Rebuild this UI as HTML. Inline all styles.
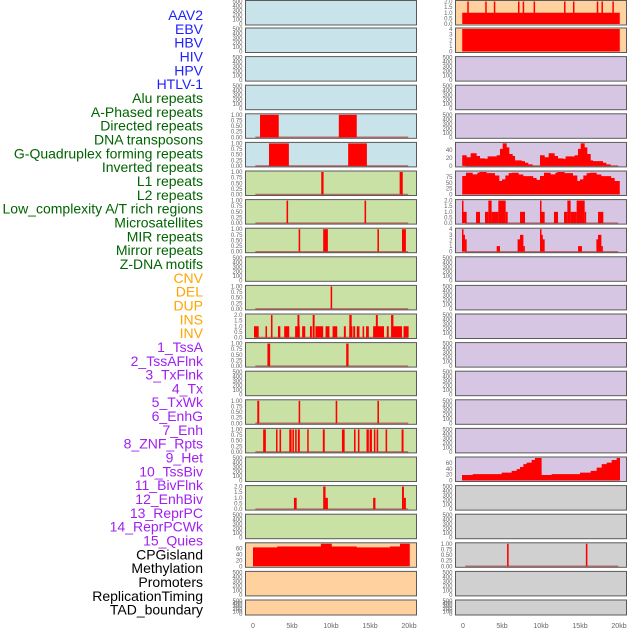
<!DOCTYPE html>
<html><head><meta charset="utf-8">
<style>
html,body{margin:0;padding:0;background:#fff;}
svg{display:block;font-family:"Liberation Sans",sans-serif;}
</style></head>
<body>
<svg id="chart" width="630" height="630" viewBox="0 0 630 630"></svg>
<script>
const trackLabels = ["AAV2","EBV","HBV","HIV","HPV","HTLV-1","Alu repeats","A-Phased repeats","Directed repeats","DNA transposons","G-Quadruplex forming repeats","Inverted repeats","L1 repeats","L2 repeats","Low_complexity A/T rich regions","Microsatellites","MIR repeats","Mirror repeats","Z-DNA motifs","CNV","DEL","DUP","INS","INV","1_TssA","2_TssAFlnk","3_TxFlnk","4_Tx","5_TxWk","6_EnhG","7_Enh","8_ZNF_Rpts","9_Het","10_TssBiv","11_BivFlnk","12_EnhBiv","13_ReprPC","14_ReprPCWk","15_Quies","CPGisland","Methylation","Promoters","ReplicationTiming","TAD_boundary"];
const trackLabelGroups = [0,0,0,0,0,0,1,1,1,1,1,1,1,1,1,1,1,1,1,2,2,2,2,2,3,3,3,3,3,3,3,3,3,3,3,3,3,3,3,4,4,4,4,4];
const xTickValues = [0,5,10,15,20];
const xTickLabels = ["0","5kb","10kb","15kb","20kb"];

// bar data: [startKb, endKb, value]
const barsA = [[0.9,3.3,1],[11.0,13.3,1]];
const barsB = [[2.05,4.6,1],[12.2,14.6,1]];
const barsC = [[8.75,9.05,1],[18.8,19.2,1]];
const barsD = [[4.3,4.5,1],[14.3,14.5,1]];
const barsE = [[5.85,6.05,1],[9.0,9.6,1],[15.95,16.15,1],[19.1,19.6,1]];
const barsF = [[9.95,10.15,1]];
const barsINS = [[0.13,0.73,1],[1.6,1.8,1],[2.3,2.5,2],[3.2,3.5,1],[4.0,4.65,1],[5.4,6.0,1],[5.7,5.95,2],[6.3,6.7,1],[7.3,7.55,1],[7.65,7.9,2],[8.0,9.0,1],[9.3,9.8,1],[10.2,10.8,1],[11.65,11.9,1],[12.35,12.65,2],[12.35,12.75,1],[12.85,13.1,1],[13.3,13.65,1],[14.05,14.25,1],[14.5,14.85,1],[15.4,16.8,1],[15.75,16.0,2],[17.15,17.4,1],[17.7,18.0,2],[17.8,19.1,1],[19.3,19.95,1]];
const barsTss = [[1.85,2.2,1],[11.95,12.25,1]];
const barsTxWk = [[0.55,0.8,1],[5.85,6.05,1],[10.6,10.8,1],[15.95,16.15,1]];
const barsEnh = [[1.3,1.65,1],[2.95,3.1,1],[3.4,3.6,1],[4.65,4.95,1],[5.05,5.25,1],[5.4,5.6,1],[5.75,6.0,1],[6.95,7.1,1],[8.95,9.2,1],[11.4,11.75,1],[12.95,13.15,1],[13.45,13.65,1],[14.55,14.85,1],[14.95,15.25,1],[15.5,15.65,1],[15.85,16.05,1],[17.0,17.2,1],[19.05,19.3,1]];
const barsEnhBiv = [[5.25,5.6,1],[9.0,9.3,2],[9.3,9.6,1],[15.4,15.7,1],[19.1,19.35,2],[19.35,19.6,1]];
const barsAAV = [[-0.1,20.1,1],[0.55,0.7,2],[2.85,3.0,2],[3.95,4.1,2],[7.05,7.2,2],[7.65,7.8,2],[9.05,9.2,2],[12.95,13.1,2],[14.1,14.25,2],[17.15,17.3,2],[17.75,17.9,2],[19.15,19.3,2]];
const barsEBV = [[-0.1,20.1,4]];
const barsRep2 = [[-0.13,0.04,2],[0.04,0.47,1],[1.67,2.18,1],[2.82,3.25,1],[3.25,3.67,2],[3.67,4.53,1],[4.53,5.47,2],[5.47,5.73,1],[7.31,7.95,1],[9.87,10.04,2],[10.04,10.47,1],[11.66,12.18,1],[12.95,13.38,1],[13.38,13.8,2],[13.8,14.57,1],[14.57,15.6,2],[15.6,15.77,1],[17.31,17.99,1]];
const barsRep4 = [[-0.13,0.04,4],[0.04,0.25,3],[0.25,0.47,2.2],[4.32,4.74,1],[7.0,7.31,2.2],[7.31,7.74,3],[7.74,7.9,1],[9.87,10.04,4],[10.04,10.2,3],[10.2,10.47,2.2],[14.75,15.25,1],[17.1,17.31,2.2],[17.31,17.74,3],[17.74,17.9,1]];
const barsPoint = [[5.65,5.85,1],[15.75,15.95,1]];

// step-area data: starts (kb), values, final end
const cpgStarts = [0,3.1,7.45,8.7,10.1,13.3,17.55,18.85];
const cpgValues = [63,66,66,75,66,63,66,75];
const cpgEnd = 20.1;
const gqStarts = [-0.1,0.47,0.98,1.75,2.18,2.82,3.16,4.32,4.74,5.09,5.6,5.94,6.37,6.67,7.52,7.95,8.38,8.93,9.87,10.47,10.98,11.75,12.18,12.82,13.16,14.32,14.74,15.09,15.6,15.94,16.37,16.67,17.52,17.95,18.38,18.93];
const gqValues = [27,22,32,25,19,18,24,27,43,57,47,30,25,14,12,8,4,0,27,22,32,25,19,18,24,27,43,57,47,30,14,12,12,8,4,0];
const gqEnd = 20.0;
const invStarts = [-0.1,0.38,1.24,1.84,2.1,3.03,4.1,4.66,5.0,5.43,5.85,6.28,7.14,7.74,9.0,9.44,9.87,10.38,11.24,11.84,12.1,13.03,14.1,14.66,15.0,15.43,15.85,16.28,17.14,17.74,19.0,19.44];
const invValues = [80,94,87,94,97,92,82,58,65,82,92,94,86,79,71,63,80,94,87,94,97,92,82,58,65,82,92,94,86,79,71,58];
const invEnd = 20.1;
const hetStarts = [-0.13,1.24,4.96,6.24,6.88,7.31,7.74,8.16,8.8,9.23,10.08,11.37,15.0,16.37,17.14,17.78,18.42,19.06,19.7];
const hetValues = [19,22,27,33,39,46,56,61,70,77,19,22,27,33,44,56,61,70,77];
const hetEnd = 20.13;

const tickEmpty = [0,100,200,300,400,500];
const tickUnit = [0,0.25,0.5,0.75,1];
const tickTwo = [0,0.5,1,1.5,2];
const tickFour = [0,1,2,3,4];

const BLUE="#c9e3ea", GREEN="#c9e1a5", ORANGE="#ffd19e", PURPLE="#d6c6e3", GRAY="#d0d0d0";
const panels = [
 [0,0,BLUE,"empty"],[0,1,BLUE,"empty"],[0,2,BLUE,"empty"],[0,3,BLUE,"empty"],
 [0,4,BLUE,"bars",barsA,tickUnit,1],[0,5,BLUE,"bars",barsB,tickUnit,1],
 [0,6,GREEN,"bars",barsC,tickUnit,1],[0,7,GREEN,"bars",barsD,tickUnit,1],
 [0,8,GREEN,"bars",barsE,tickUnit,1],[0,9,GREEN,"empty"],
 [0,10,GREEN,"bars",barsF,tickUnit,1],[0,11,GREEN,"bars",barsINS,tickTwo,2],
 [0,12,GREEN,"bars",barsTss,tickUnit,1],[0,13,GREEN,"empty"],
 [0,14,GREEN,"bars",barsTxWk,tickUnit,1],[0,15,GREEN,"bars",barsEnh,tickUnit,1],
 [0,16,GREEN,"empty"],[0,17,GREEN,"bars",barsEnhBiv,tickTwo,2],[0,18,GREEN,"empty"],
 [0,19,ORANGE,"area",[cpgStarts,cpgValues,cpgEnd],[0,20,40,60],75],
 [0,20,ORANGE,"empty"],[0,21,ORANGE,"empty"],
 [1,0,ORANGE,"bars",barsAAV,tickTwo,2,true],[1,1,ORANGE,"bars",barsEBV,tickFour,4,true],
 [1,2,PURPLE,"empty"],[1,3,PURPLE,"empty"],[1,4,PURPLE,"empty"],
 [1,5,PURPLE,"area",[gqStarts,gqValues,gqEnd],[0,20,40],57,false,true],
 [1,6,PURPLE,"area",[invStarts,invValues,invEnd],[0,25,50,75],97],
 [1,7,PURPLE,"bars",barsRep2,tickTwo,2],[1,8,PURPLE,"bars",barsRep4,tickFour,4],
 [1,9,PURPLE,"empty"],[1,10,PURPLE,"empty"],[1,11,PURPLE,"empty"],[1,12,PURPLE,"empty"],
 [1,13,PURPLE,"empty"],[1,14,PURPLE,"empty"],[1,15,PURPLE,"empty"],
 [1,16,PURPLE,"area",[hetStarts,hetValues,hetEnd],[0,20,40,60],77],
 [1,17,GRAY,"empty"],[1,18,GRAY,"empty"],[1,19,GRAY,"bars",barsPoint,tickUnit,1],
 [1,20,GRAY,"empty"],[1,21,GRAY,"empty"]
];

const NS="http://www.w3.org/2000/svg";
const svg=document.getElementById("chart");
function mk(tag,attrs,parent){const e=document.createElementNS(NS,tag);for(const k in attrs)e.setAttribute(k,attrs[k]);(parent||svg).appendChild(e);return e;}
const colLeft=[245.5,455.5], panelW=171, x0s=[253,463], kbPx=7.8;
function xScale(col,kb){return x0s[col]+kb*kbPx;}
function panelTop(row){return Math.max(0.5,28.6*row-0.6);}
function panelH(row){return row===21?15:24.5;}

const groupColors=["#1f1fff","#006400","#ffa500","#a020f0","#000000"];
trackLabels.forEach((t,i)=>{
  const tx=mk("text",{x:203,y:(14+13.83*i+6).toFixed(1),"text-anchor":"end","font-size":"14",fill:groupColors[trackLabelGroups[i]]});
  tx.textContent=t;
  
  
});

panels.forEach(p=>{
  const [col,row,bg,type,data,ticks,ymax,noBase,noBase2]=p;
  const g=mk("g",{});
  
  
  const top=panelTop(row),h=panelH(row),left=colLeft[col],bottom=top+h;
  mk("rect",{x:left,y:top,width:panelW,height:h,fill:bg},g);
  const yS=v=>bottom-1-(v/ymax)*(h-2);
  const tickList = type==="empty"?tickEmpty:ticks;
  const tmax = type==="empty"?500:ymax;
  tickList.forEach(v=>{
    const y=bottom-1-(v/tmax)*(h-2);
    let lab = type==="empty"?String(v):(ticks===tickUnit?v.toFixed(2):(ticks===tickTwo?v.toFixed(1):String(v)));
    const tt=mk("text",{x:left-3,y:(y+2).toFixed(1),"text-anchor":"end","font-size":"6",fill:"#666"},g);
    tt.textContent=lab;
    
    
  });
  if(type==="bars"){
    if(!noBase) mk("line",{x1:xScale(col,0.3),x2:xScale(col,19.9),y1:bottom-1,y2:bottom-1,stroke:"#b04040","stroke-width":1.5,"stroke-opacity":0.7},g);
    data.forEach(b=>{
      const r=mk("rect",{x:xScale(col,b[0]).toFixed(2),y:yS(b[2]).toFixed(2),width:Math.max(1.5,(b[1]-b[0])*kbPx).toFixed(2),height:(bottom-1-yS(b[2])).toFixed(2),fill:"#ff0000"},g);
      
      
    });
  } else if(type==="area"){
    const [starts,vals,end]=data;
    if(noBase2) mk("line",{x1:xScale(col,0.3),x2:xScale(col,19.9),y1:bottom-1,y2:bottom-1,stroke:"#b04040","stroke-width":1.5,"stroke-opacity":0.7},g);
    let d="M"+xScale(col,starts[0]).toFixed(2)+","+(bottom-1);
    starts.forEach((s,i)=>{
      const e=i<starts.length-1?starts[i+1]:end;
      const y=yS(vals[i]).toFixed(2);
      d+=" L"+xScale(col,s).toFixed(2)+","+y+" L"+xScale(col,e).toFixed(2)+","+y;
    });
    d+=" L"+xScale(col,end).toFixed(2)+","+(bottom-1)+" Z";
    const a=mk("path",{d:d,fill:"#ff0000"},g);
    
    
  }
  mk("rect",{x:left,y:top,width:panelW,height:h,fill:"none",stroke:"#5a5a5a","stroke-width":1},g);
});

[0,1].forEach(col=>{
  xTickValues.forEach((v,i)=>{
    const t=mk("text",{x:xScale(col,v),y:628,"text-anchor":"middle","font-size":"7",fill:"#666"});
    t.textContent=xTickLabels[i];
    
    
  });
});
</script>
</body></html>
